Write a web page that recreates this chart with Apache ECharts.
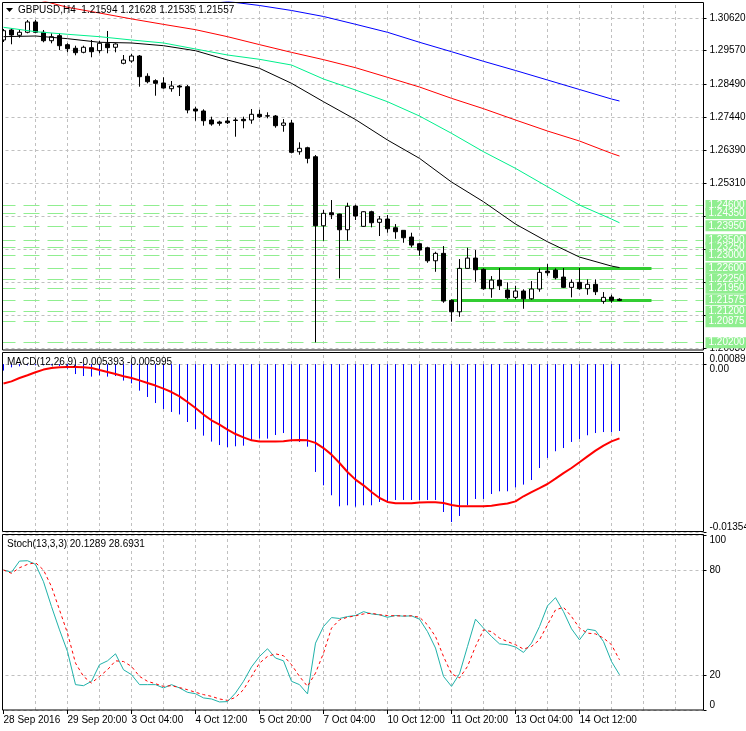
<!DOCTYPE html>
<html><head><meta charset="utf-8">
<script src="https://cdn.jsdelivr.net/npm/echarts@6/dist/echarts.min.js"></script>
<style>html,body{margin:0;padding:0;background:#fff}#c{width:746px;height:731px}</style>
</head><body><div id="c"></div><script>
// ---------- DATA ----------
const tickLabels = ['28 Sep 2016','29 Sep 20:00','3 Oct 04:00','4 Oct 12:00','5 Oct 20:00','7 Oct 04:00','10 Oct 12:00','11 Oct 20:00','13 Oct 04:00','14 Oct 12:00'];
const slotCount = 88; // 78 bars + empty space on the right
const categories = Array.from({length: slotCount}, (_, i) => 'b' + i);

// [open, high, low, close]
const ohlc = [
[1.29914,1.30267,1.29850,1.30212],[1.30235,1.30289,1.29776,1.30074],[1.30065,1.30257,1.29988,1.30161],[1.30161,1.30556,1.30129,1.30492],
[1.30492,1.30556,1.30129,1.30161],[1.30161,1.30235,1.29840,1.29891],[1.29891,1.30129,1.29808,1.30020],[1.30052,1.30129,1.29593,1.29731],
[1.29763,1.29808,1.29519,1.29635],[1.29648,1.29731,1.29423,1.29506],[1.29519,1.29731,1.29487,1.29680],[1.29667,1.29914,1.29359,1.29538],
[1.29571,1.29891,1.29487,1.29808],[1.29795,1.30203,1.29487,1.29667],[1.29680,1.29808,1.29519,1.29785],[1.29166,1.29432,1.29134,1.29272],
[1.29240,1.29462,1.29185,1.29400],[1.29400,1.29432,1.28415,1.28736],[1.28749,1.28845,1.28524,1.28575],[1.28608,1.28653,1.28126,1.28524],
[1.28534,1.28717,1.28351,1.28373],[1.28351,1.28598,1.28254,1.28437],[1.28437,1.28469,1.28116,1.28405],[1.28415,1.28469,1.27561,1.27667],
[1.27699,1.27773,1.27323,1.27635],[1.27635,1.27689,1.27163,1.27323],[1.27346,1.27452,1.27163,1.27218],[1.27282,1.27323,1.27163,1.27240],
[1.27314,1.27442,1.27218,1.27259],[1.27346,1.27420,1.26810,1.27330],[1.27368,1.27452,1.27080,1.27323],[1.27346,1.27699,1.27227,1.27529],
[1.27529,1.27676,1.27410,1.27452],[1.27480,1.27593,1.27400,1.27474],[1.27474,1.27506,1.27099,1.27163],[1.27176,1.27378,1.26970,1.27250],
[1.27250,1.27346,1.26277,1.26309],[1.26328,1.26630,1.26232,1.26438],[1.26457,1.26489,1.25956,1.26116],[1.26168,1.26222,1.20210,1.23953],
[1.23953,1.24457,1.23472,1.24351],[1.24370,1.24778,1.24168,1.24306],[1.24329,1.24340,1.22264,1.23825],[1.23825,1.24691,1.23472,1.24576],
[1.24585,1.24627,1.24136,1.24265],[1.23934,1.24420,1.23920,1.24403],[1.24403,1.24435,1.23902,1.24049],[1.24062,1.24265,1.23623,1.24168],
[1.24168,1.24297,1.23729,1.23857],[1.23889,1.24007,1.23536,1.23761],[1.23806,1.23815,1.23408,1.23568],[1.23591,1.23729,1.23259,1.23333],
[1.23376,1.23408,1.22990,1.23173],[1.23247,1.23279,1.22765,1.22829],[1.22829,1.23119,1.22476,1.23067],[1.23067,1.23301,1.21482,1.21536],
[1.21559,1.21591,1.20872,1.21192],[1.21192,1.22884,1.21032,1.22585],[1.22585,1.23247,1.22580,1.22916],[1.22916,1.23173,1.22156,1.22540],
[1.22553,1.22585,1.21900,1.21932],[1.21932,1.22338,1.21642,1.22210],[1.22210,1.22595,1.21891,1.22028],[1.21891,1.22137,1.21591,1.21642],
[1.21655,1.22028,1.21591,1.21858],[1.21858,1.21913,1.21289,1.21610],[1.21610,1.22178,1.21578,1.21923],[1.21923,1.22585,1.21836,1.22457],
[1.22499,1.22723,1.22348,1.22444],[1.22531,1.22585,1.22232,1.22283],[1.22306,1.22595,1.21954,1.21976],[1.21976,1.22232,1.21655,1.22137],
[1.22137,1.22595,1.21900,1.21932],[1.21932,1.22232,1.21738,1.22073],[1.22073,1.22232,1.21729,1.21836],[1.21527,1.21825,1.21450,1.21655],
[1.21664,1.21738,1.21482,1.21559],[1.21594,1.21628,1.21535,1.21557]
];

// moving averages: [bar index, value]
const maBlack = [[0,1.30020],[4,1.30042],[8,1.29956],[12,1.29840],[16,1.29818],[20,1.29731],[24,1.29570],[28,1.29272],[32,1.29005],[36,1.28524],[40,1.27933],[44,1.27362],[48,1.26704],[52,1.26116],[56,1.25356],[60,1.24723],[64,1.24007],[68,1.23439],[72,1.22948],[76,1.22659],[77,1.22611]];
const maGreen = [[0,1.30321],[4,1.30180],[8,1.30097],[12,1.30020],[16,1.29914],[20,1.29818],[24,1.29625],[28,1.29432],[32,1.29294],[36,1.29111],[40,1.28662],[44,1.28309],[48,1.27933],[52,1.27474],[56,1.26919],[60,1.26328],[64,1.25795],[68,1.25205],[72,1.24617],[76,1.24168],[77,1.24049]];
const maRed = [[0,1.31423],[4,1.31230],[8,1.30963],[12,1.30780],[16,1.30590],[20,1.30415],[24,1.30245],[28,1.30020],[32,1.29765],[36,1.29517],[40,1.29283],[44,1.29025],[48,1.28716],[52,1.28405],[56,1.28042],[60,1.27709],[64,1.27346],[68,1.26993],[72,1.26672],[76,1.26277],[77,1.26190]];
const maBlue = [[24,1.31294],[28,1.31150],[32,1.31021],[36,1.30861],[40,1.30668],[44,1.30418],[48,1.30161],[52,1.29840],[56,1.29538],[60,1.29230],[64,1.28935],[68,1.28630],[72,1.28325],[76,1.28020],[77,1.27956]];

const priceTicks = [1.30620,1.29570,1.28490,1.27440,1.26390,1.25310,1.24260,1.23200,1.22150,1.21090,1.20030];
const levels = [1.24600,1.24350,1.23950,1.23500,1.23250,1.23000,1.22600,1.22250,1.21950,1.21575,1.21200,1.20875,1.20200];
const channel = [{from:59, to:81, price:1.22600},{from:55.5, to:81, price:1.21575}];

const macdHist = [-0.00052,-0.00026,-0.00018,-0.00010,-0.00010,-0.00010,-0.00010,-0.00015,-0.00036,-0.00080,-0.00096,-0.00101,-0.00090,-0.00101,-0.00096,-0.00133,-0.00155,-0.00214,-0.00265,-0.00314,-0.00362,-0.00386,-0.00406,-0.00467,-0.00524,-0.00577,-0.00625,-0.00653,-0.00669,-0.00663,-0.00658,-0.00617,-0.00601,-0.00601,-0.00572,-0.00556,-0.00623,-0.00628,-0.00666,-0.00870,-0.00978,-0.01058,-0.01147,-0.01139,-0.01150,-0.01139,-0.01139,-0.01112,-0.01107,-0.01096,-0.01096,-0.01096,-0.01096,-0.01096,-0.01096,-0.01193,-0.01274,-0.01225,-0.01139,-0.01088,-0.01088,-0.01048,-0.01026,-0.01026,-0.00994,-0.00972,-0.00935,-0.00838,-0.00757,-0.00703,-0.00677,-0.00628,-0.00604,-0.00574,-0.00556,-0.00548,-0.00550,-0.005393];
const macdSignal = [-0.00157,-0.00139,-0.00112,-0.00090,-0.00066,-0.00044,-0.00031,-0.00026,-0.00023,-0.00023,-0.00026,-0.00031,-0.00048,-0.00064,-0.00080,-0.00098,-0.00112,-0.00131,-0.00152,-0.00173,-0.00198,-0.00225,-0.00260,-0.00306,-0.00354,-0.00407,-0.00453,-0.00488,-0.00528,-0.00564,-0.00591,-0.00615,-0.00625,-0.00625,-0.00625,-0.00623,-0.00615,-0.00612,-0.00615,-0.00635,-0.00677,-0.00730,-0.00798,-0.00870,-0.00932,-0.00978,-0.01032,-0.01080,-0.01112,-0.01123,-0.01123,-0.01123,-0.01117,-0.01115,-0.01115,-0.01121,-0.01137,-0.01147,-0.01147,-0.01147,-0.01147,-0.01142,-0.01133,-0.01125,-0.01107,-0.01066,-0.01032,-0.01000,-0.00967,-0.00924,-0.00879,-0.00838,-0.00792,-0.00744,-0.00698,-0.00657,-0.00623,-0.005995];
const macdMin = -0.013543, macdMax = 0.000897;
const macdTicks = [macdMin, 0];

const stochK = [80,78.7,85.1,85.3,83.2,73.3,59.1,45.8,33.4,14.5,13.9,16.4,25.9,28.1,32.1,23,20.2,14.5,14.5,14.5,12.6,14.5,12.6,10.1,9.3,6.9,6.3,4.6,4.8,9.7,16.4,24.6,30.6,35,29.7,28.1,16.4,14.5,9.2,38.2,47.7,52.8,52.3,53.4,54,56.2,54.9,54.4,53,54,53.6,53.8,51.9,44.8,35.4,19.2,13.5,20.7,36.3,51.9,46.8,42,37.8,37.3,36,32.9,38.2,47.7,59.5,64.2,56.2,46.4,40.1,46.2,45.4,39.1,27.7,20.1289];
const stochD = [80,78.1,81.3,83.2,84.2,80,70.5,57.2,43.9,26.8,19.2,15.4,19.2,23,28.1,27.7,24.9,19.2,16.4,15,13.5,13.9,12.8,11.6,10.1,8.8,7.8,6.3,5.5,7.2,11.6,19.2,26.8,30.6,32.1,31,25.9,19.2,13.5,21.1,32.5,46.8,51.5,53,53.8,54.9,55.3,54.4,54,53.8,53.8,53.8,53,48.7,42,30.6,20.7,18.3,24.9,36.3,45.8,44.8,41.1,39.1,37.3,34.8,36.3,40.1,48.7,57.2,58.7,53.4,46.8,43.9,43.5,41.1,37.3,28.6931];
const stochTicks = [0, 20, 80, 100];

const gridStep = 4;    // vertical grid every 4 bars
const labelStep = 8;   // time label every 8 bars

// ---------- CHART ----------
const FONT = 'Liberation Sans, Arial, sans-serif';
const GRID_C = '#c0c0c0';
const chart = echarts.init(document.getElementById('c'), null, {renderer: 'canvas'});

const vGrid = [];
for (let i = gridStep; i < slotCount; i += gridStep) vGrid.push({xAxis: i});
function gridHelper(k) {
  return {
    type: 'line', xAxisIndex: k, yAxisIndex: k, data: [], silent: true, z: 1,
    markLine: {silent: true, z: 1, symbol: 'none', animation: false, label: {show: false},
      lineStyle: {color: GRID_C, type: [3, 3], width: 1}, data: vGrid}
  };
}
function xAx(k, showLabels) {
  const isTick = (idx) => idx % labelStep === 0 && idx / labelStep < tickLabels.length;
  return {
    type: 'category', gridIndex: k, data: categories, boundaryGap: true,
    axisLine: {show: false},
    axisTick: {show: showLabels, interval: (idx) => isTick(idx), alignWithLabel: true, length: 4, lineStyle: {color: '#000'}},
    axisLabel: {show: showLabels, interval: (idx) => isTick(idx), align: 'left', margin: 5,
      formatter: (v, idx) => tickLabels[idx / labelStep] || '', color: '#000', fontSize: 10, fontFamily: FONT},
    splitLine: {show: false}
  };
}
function yAx(k, min, max, ticks, fmt, edgeAlign, extra) {
  const lab = {customValues: ticks, formatter: fmt, color: '#000', fontSize: 10, fontFamily: FONT, margin: 6,
    showMinLabel: true, showMaxLabel: true, hideOverlap: false};
  if (edgeAlign) { lab.verticalAlignMinLabel = 'bottom'; lab.verticalAlignMaxLabel = 'top'; }
  return Object.assign({
    type: 'value', gridIndex: k, position: 'right', min: min, max: max,
    axisLine: {show: false},
    axisTick: {show: true, customValues: ticks, length: 3, lineStyle: {color: '#000'}},
    axisLabel: lab,
    splitLine: {show: true, lineStyle: {color: GRID_C, type: [3, 3], width: 1}}
  }, extra || {});
}

const levelLines = levels.map(v => ({yAxis: v}));
const channelLines = channel.map(c => [
  {coord: [c.from, c.price], lineStyle: {color: '#32CD32', width: 3, type: 'solid'}, label: {show: false}},
  {coord: [c.to, c.price]}
]);

// MACD histogram drawn as 1px vertical sticks from zero through the axis scales
function histStick(params, api) {
  const base = api.coord([api.value(0), 0]);
  const top = api.coord([api.value(0), api.value(1)]);
  return {type: 'line', shape: {x1: base[0], y1: base[1], x2: top[0], y2: top[1]},
    style: {stroke: '#0000ff', lineWidth: 1}};
}

const gridBase = {left: -0.5, right: 42.5, containLabel: false, outerBoundsMode: 'none'};
const option = {
  animation: false,
  backgroundColor: '#fff',
  grid: [
    Object.assign({top: 2, height: 348}, gridBase),
    Object.assign({top: 353, height: 179}, gridBase),
    Object.assign({top: 535, height: 175}, gridBase)
  ],
  xAxis: [xAx(0, false), xAx(1, false), xAx(2, true)],
  yAxis: [
    yAx(0, 1.19966, 1.31133, priceTicks, v => Number(v).toFixed(5), false),
    yAx(1, macdMin, macdMax, macdTicks, v => (Number(v) === 0 ? '0.00' : Number(v).toFixed(6)), true, {
      name: macdMax.toFixed(6), nameLocation: 'end', nameGap: -7,
      nameTextStyle: {align: 'left', verticalAlign: 'middle', padding: [0, 0, 0, 6], color: '#000', fontSize: 10, fontFamily: FONT}
    }),
    yAx(2, 0, 100, stochTicks, v => String(v), true)
  ],
  series: [
    gridHelper(0), gridHelper(1), gridHelper(2),
    {
      type: 'candlestick', xAxisIndex: 0, yAxisIndex: 0, barWidth: 5, z: 3,
      data: ohlc.map(r => [r[0], r[3], r[2], r[1]]),
      itemStyle: {color: '#ffffff', color0: '#000000', borderColor: '#000000', borderColor0: '#000000', borderWidth: 1},
      markLine: {
        silent: true, z: 2, precision: 5, symbol: 'none', animation: false,
        lineStyle: {color: '#90EE90', type: [16, 8], width: 1},
        label: {show: true, position: 'end', distance: 2, formatter: p => Number(p.value).toFixed(5),
          color: '#ffffff', backgroundColor: '#90EE90', fontSize: 10, fontFamily: FONT, padding: [1, 4, 0, 3]},
        data: levelLines.concat(channelLines)
      }
    },
    {type: 'line', xAxisIndex: 0, yAxisIndex: 0, data: maBlue, showSymbol: false, symbol: 'none', z: 4, lineStyle: {color: '#0000ff', width: 1}},
    {type: 'line', xAxisIndex: 0, yAxisIndex: 0, data: maRed, showSymbol: false, symbol: 'none', z: 4, lineStyle: {color: '#ff0000', width: 1}},
    {type: 'line', xAxisIndex: 0, yAxisIndex: 0, data: maGreen, showSymbol: false, symbol: 'none', z: 4, lineStyle: {color: '#00f08c', width: 1}},
    {type: 'line', xAxisIndex: 0, yAxisIndex: 0, data: maBlack, showSymbol: false, symbol: 'none', z: 4, lineStyle: {color: '#000000', width: 1}},
    {type: 'custom', xAxisIndex: 1, yAxisIndex: 1, z: 3, renderItem: histStick, encode: {x: 0, y: 1},
      data: macdHist.map((v, i) => [i, v])},
    {type: 'line', xAxisIndex: 1, yAxisIndex: 1, data: macdSignal, showSymbol: false, symbol: 'none', z: 4, lineStyle: {color: '#ff0000', width: 2}},
    {type: 'line', xAxisIndex: 2, yAxisIndex: 2, data: stochK, showSymbol: false, symbol: 'none', z: 4, lineStyle: {color: '#20b2aa', width: 1}},
    {type: 'line', xAxisIndex: 2, yAxisIndex: 2, data: stochD, showSymbol: false, symbol: 'none', z: 4, lineStyle: {color: '#ff0000', width: 1, type: [3, 3]}}
  ],
  graphic: [
    {type: 'rect', z: 90, silent: true, shape: {x: 0, y: 0, width: 2, height: 731}, style: {fill: '#fff'}},
    {type: 'rect', z: 100, silent: true, shape: {x: 2.5, y: 2.5, width: 701, height: 347.5}, style: {fill: null, stroke: '#000', lineWidth: 1}},
    {type: 'rect', z: 100, silent: true, shape: {x: 2.5, y: 352.5, width: 701, height: 179}, style: {fill: null, stroke: '#000', lineWidth: 1}},
    {type: 'rect', z: 100, silent: true, shape: {x: 2.5, y: 534.5, width: 701, height: 175.5}, style: {fill: null, stroke: '#000', lineWidth: 1}},
    {type: 'polygon', z: 100, silent: true, shape: {points: [[6, 8], [13, 8], [9.5, 12]]}, style: {fill: '#000'}},
    {type: 'text', z: 100, silent: true, style: {x: 18, y: 10.5, text: 'GBPUSD,H4  1.21594 1.21628 1.21535 1.21557', fill: '#000', font: '10px ' + FONT, verticalAlign: 'middle'}},
    {type: 'text', z: 100, silent: true, style: {x: 7, y: 362.5, text: 'MACD(12,26,9) -0.005393 -0.005995', fill: '#000', font: '10px ' + FONT, verticalAlign: 'middle'}},
    {type: 'text', z: 100, silent: true, style: {x: 7, y: 544, text: 'Stoch(13,3,3) 20.1289 28.6931', fill: '#000', font: '10px ' + FONT, verticalAlign: 'middle'}}
  ]
};
chart.setOption(option);
</script></body></html>
